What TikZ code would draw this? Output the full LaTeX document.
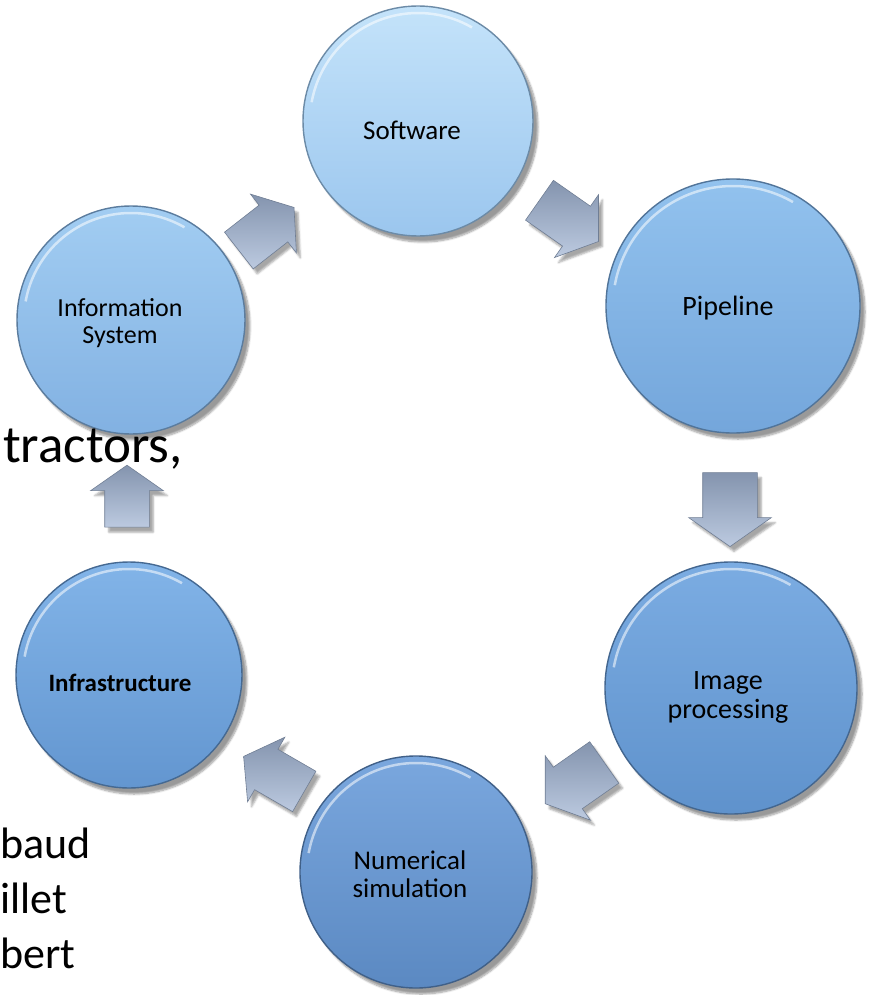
\documentclass[tikz,border=0pt]{standalone}
\usepackage{fontspec}
\setmainfont{Carlito}
\usetikzlibrary{shapes.arrows,shadows.blur,positioning}

\definecolor{arrowlight}{HTML}{DDE6F3}
\definecolor{arrowmid}{HTML}{BCCAE0}
\definecolor{arrowdark}{HTML}{8494AE}
\definecolor{softtop}{HTML}{C4E3FA}
\definecolor{softbot}{HTML}{9BC6EE}
\definecolor{pipetop}{HTML}{92C2EE}
\definecolor{pipebot}{HTML}{74A6DB}
\definecolor{imagtop}{HTML}{7BACE2}
\definecolor{imagbot}{HTML}{5F92CC}
\definecolor{simutop}{HTML}{7AA7DE}
\definecolor{simubot}{HTML}{5B89C2}
\definecolor{infrtop}{HTML}{82B4E8}
\definecolor{infrbot}{HTML}{6396D0}
\definecolor{infotop}{HTML}{A2CDF2}
\definecolor{infobot}{HTML}{82B1E2}

\begin{document}
\begin{tikzpicture}[x=1pt,y=-1pt,
	bubble/.style 2 args={circle,inner sep=0pt,align=center,
		top color=#1,bottom color=#2,draw=#2!70!black,line width=1.4pt,
		blur shadow={shadow xshift=5pt,shadow yshift=-6pt,shadow blur steps=8,shadow opacity=40}},
	flow/.style={single arrow,inner sep=0pt,minimum height=72pt,
		text height=#1,text depth=#1,
		single arrow head extend=14pt,single arrow tip angle=110,
		top color=arrowdark,middle color=arrowlight,bottom color=arrowmid,
		draw=arrowdark!85!black,line width=.6pt,
		blur shadow={shadow xshift=4pt,shadow yshift=-5pt,shadow opacity=35}},
	back/.style={font=\fontsize{44}{56}\selectfont,inner sep=0pt}]
	\useasboundingbox (0,0) rectangle (869,995);

	% the six stages
	\node[bubble={softtop}{softbot},minimum size=230pt] (soft) at (418,121) {};
	\node[bubble={pipetop}{pipebot},minimum size=254pt] (pipe) at (733,306) {};
	\node[bubble={imagtop}{imagbot},minimum size=252pt] (imag) at (731,688) {};
	\node[bubble={simutop}{simubot},minimum size=232pt] (simu) at (416,872) {};
	\node[bubble={infrtop}{infrbot},minimum size=226pt] (infr) at (129,675) {};
	\node[bubble={infotop}{infobot},minimum size=228pt] (info) at (131,320) {};

	% labels sit a little below the centres
	\node[font=\fontsize{27}{28}\selectfont] at (412,130) {Software};
	\node[font=\fontsize{28}{28}\selectfont] at (728,308) {Pipeline};
	\node[font=\fontsize{28}{29}\selectfont,align=center] at (728,697) {Image\\processing};
	\node[font=\fontsize{27}{28}\selectfont,align=center] at (410,874) {Numerical\\simulation};
	\node[font=\fontsize{25}{28}\selectfont\bfseries] at (120,683) {Infrastructure};
	\node[font=\fontsize{26}{27}\selectfont,align=center] at (120,323) {Information\\System};

	% light rim along the top of each disc
	\foreach \n/\r in {soft/108,pipe/120,imag/119,simu/109,infr/106,info/107}
		\draw[white,opacity=.55,line width=2.5pt] (\n.center) ++(60:\r pt) arc[start angle=60,end angle=170,radius=\r pt];

	% block arrows between the stages
	\node[flow=23pt,rotate=38,minimum height=70pt] (a1) at (260,234) {};
	\node[flow=24pt,rotate=-35,minimum height=72pt] (a2) at (562,216) {};
	\node[flow=27pt,rotate=-90,minimum height=74pt] (a3) at (730,500) {};
	\node[flow=25pt,rotate=-145,minimum height=72pt] (a4) at (582,778) {};
	\node[flow=23pt,rotate=150,minimum height=70pt] (a5) at (281,778) {};
	\node[flow=22pt,rotate=90,minimum height=62pt] (a6) at (127,504) {};

	% slide text showing through
	\node[font=\fontsize{53}{56}\selectfont,inner sep=0pt,anchor=base west] (t1) at (3,462) {tractors,};
	\node[back,anchor=base west] (t2) at (0,858) {baud};
	\node[back,anchor=base west] (t3) at (0,913) {illet};
	\node[back,anchor=base west] (t4) at (0,968) {bert};
\end{tikzpicture}
\end{document}
